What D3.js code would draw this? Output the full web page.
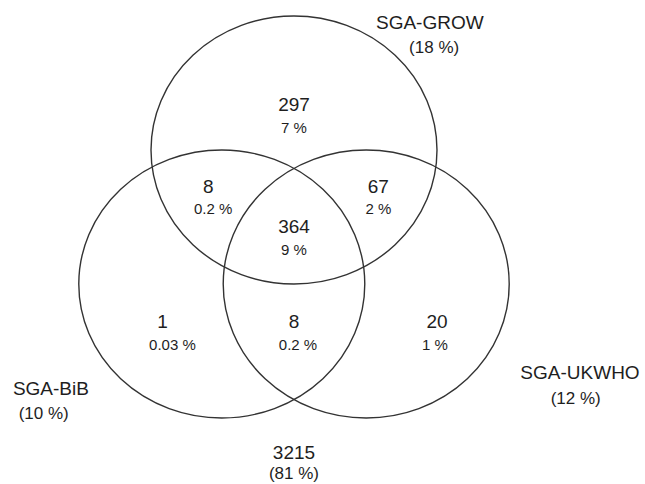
<!DOCTYPE html>
<html lang="en">
<head>
    <meta charset="UTF-8">
    <title>SGA Venn diagram</title>
    <script src="https://d3js.org/d3.v7.min.js"></script>
    <style>
        body {
            margin: 0;
            background: #fff;
            font-family: "Liberation Sans", Arial, sans-serif;
        }
        svg { display: block; }
    </style>
</head>
<body>
    <script>
        // Data
        const sets = ["SGA-GROW", "SGA-BiB", "SGA-UKWHO"];
        const setShares = ["(18 %)", "(10 %)", "(12 %)"];
        const regions = ["GROW", "GROW+BiB", "GROW+UKWHO", "all", "BiB", "BiB+UKWHO", "UKWHO"];
        const regionCounts = [297, 8, 67, 364, 1, 8, 20];
        const regionShares = ["7 %", "0.2 %", "2 %", "9 %", "0.03 %", "0.2 %", "1 %"];
        const outsideCount = 3215;
        const outsideShare = "(81 %)";

        const width = 645, height = 484;

        // layout in circle-radius units (top circle centre = 0,0)
        const centres = [[0, 0], [-0.505, 1.0], [0.505, 1.0]];
        const setLabelPos = [[0.95, -0.95, 0.98, -0.77], [-1.70, 1.78, -1.75, 1.96], [2.0, 1.66, 1.97, 1.85]];
        const regionPos = [[0, -0.34, 0], [-0.6, 0.27, 5], [0.59, 0.27, 0], [0, 0.57, 0],
                           [-0.92, 1.28, 10], [0, 1.28, 4], [1.0, 1.28, -2]];

        const x = d3.scaleLinear().domain([-1, 1]).range([151, 437]);
        const y = d3.scaleLinear().domain([-1, 1]).range([16, 284]);
        const rx = (x(1) - x(-1)) / 2, ry = (y(1) - y(-1)) / 2;

        const svg = d3.select("body")
            .append("svg")
            .attr("width", width)
            .attr("height", height);

        // circles
        svg.selectAll("ellipse")
            .data(centres)
            .enter()
            .append("ellipse")
            .attr("cx", d => x(d[0]))
            .attr("cy", d => y(d[1]))
            .attr("rx", rx)
            .attr("ry", ry)
            .attr("fill", "none")
            .attr("stroke", "#333")
            .attr("stroke-width", 1.4);

        const ink = "#1e1e1e";

        // region counts + shares
        const reg = svg.selectAll("g.region")
            .data(regions)
            .enter()
            .append("g")
            .attr("class", "region")
            .attr("text-anchor", "middle")
            .attr("fill", ink);

        reg.append("text")
            .attr("x", (d, i) => x(regionPos[i][0]))
            .attr("y", (d, i) => y(regionPos[i][1]))
            .attr("dy", "0.35em")
            .style("font-size", "19px")
            .text((d, i) => regionCounts[i]);

        reg.append("text")
            .attr("x", (d, i) => x(regionPos[i][0]) + regionPos[i][2])
            .attr("y", (d, i) => y(regionPos[i][1]) + 23)
            .attr("dy", "0.35em")
            .style("font-size", "15px")
            .text((d, i) => regionShares[i]);

        // set names
        const lab = svg.selectAll("g.setlabel")
            .data(sets)
            .enter()
            .append("g")
            .attr("class", "setlabel")
            .attr("text-anchor", "middle")
            .attr("fill", ink);

        lab.append("text")
            .attr("x", (d, i) => x(setLabelPos[i][0]))
            .attr("y", (d, i) => y(setLabelPos[i][1]))
            .attr("dy", "0.35em")
            .style("font-size", "19px")
            .text(d => d);

        lab.append("text")
            .attr("x", (d, i) => x(setLabelPos[i][2]))
            .attr("y", (d, i) => y(setLabelPos[i][3]))
            .attr("dy", "0.35em")
            .style("font-size", "17px")
            .text((d, i) => setShares[i]);

        // outside all sets
        svg.append("text")
            .attr("x", x(0))
            .attr("y", y(2.26))
            .attr("dy", "0.35em")
            .attr("text-anchor", "middle")
            .attr("fill", ink)
            .style("font-size", "19px")
            .text(outsideCount);

        svg.append("text")
            .attr("x", x(0))
            .attr("y", y(2.26) + 20)
            .attr("dy", "0.35em")
            .attr("text-anchor", "middle")
            .attr("fill", ink)
            .style("font-size", "17px")
            .text(outsideShare);
    </script>
</body>
</html>
